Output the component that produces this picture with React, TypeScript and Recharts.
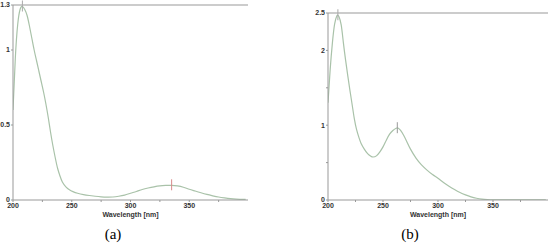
import { LineChart, Line, XAxis, YAxis, ReferenceLine, ReferenceDot } from 'recharts'

// spectrum (a)
const wlA = [200, 202, 204, 206, 208, 210, 212, 214, 216, 218, 220, 222, 224, 226, 228, 230, 232, 234, 236, 238, 240, 242, 245, 248, 251, 255, 260, 265, 270, 275, 280, 285, 290, 295, 300, 305, 310, 315, 320, 325, 330, 335, 340, 345, 350, 355, 360, 365, 370, 375, 380, 385, 390, 398]
const absA = [0.6, 0.95, 1.17, 1.27, 1.29, 1.27, 1.23, 1.16, 1.08, 1.0, 0.93, 0.86, 0.79, 0.72, 0.64, 0.55, 0.45, 0.36, 0.28, 0.21, 0.16, 0.12, 0.088, 0.068, 0.056, 0.045, 0.036, 0.03, 0.025, 0.021, 0.019, 0.02, 0.025, 0.033, 0.045, 0.057, 0.07, 0.08, 0.088, 0.094, 0.097, 0.098, 0.094, 0.085, 0.072, 0.06, 0.048, 0.037, 0.028, 0.02, 0.014, 0.009, 0.006, 0.004]

// spectrum (b)
const wlB = [200, 202, 204, 206, 208, 209, 210, 212, 214, 216, 218, 220, 222, 224, 226, 228, 230, 233, 236, 239, 241, 244, 247, 250, 253, 256, 259, 262, 264, 266, 269, 272, 275, 280, 285, 290, 295, 300, 305, 310, 315, 320, 325, 330, 335, 340, 345, 350, 360, 370, 380, 390, 398]
const absB = [1.3, 1.75, 2.1, 2.35, 2.46, 2.47, 2.45, 2.34, 2.1, 1.87, 1.66, 1.46, 1.27, 1.08, 0.94, 0.84, 0.76, 0.68, 0.62, 0.585, 0.575, 0.59, 0.64, 0.71, 0.8, 0.88, 0.93, 0.96, 0.96, 0.93, 0.86, 0.77, 0.68, 0.56, 0.47, 0.4, 0.34, 0.29, 0.235, 0.185, 0.14, 0.1, 0.068, 0.042, 0.023, 0.011, 0.005, 0.002, 0.001, 0.001, 0.001, 0.001, 0.001]

const xTicks = [200, 225, 250, 275, 300, 325, 350, 375]
const yTicksA = [0, 0.5, 1, 1.3]
const yTicksB = [0, 0.5, 1, 1.5, 2, 2.5]
const yLabelsB = [0, 1, 2, 2.5]

const peaksA = [
  { x: 208, y: 1.29, color: '#aaa' },
  { x: 335, y: 0.098, color: '#d98a8a' },
]
const peaksB = [
  { x: 209, y: 2.47, color: '#aaa' },
  { x: 263, y: 0.96, color: '#999' },
]

const dataA = wlA.map((w, i) => ({ wl: w, abs: absA[i] }))
const dataB = wlB.map((w, i) => ({ wl: w, abs: absB[i] }))

const tickStyle = { fontSize: 7, fontFamily: 'Liberation Sans', fontWeight: 'bold', fill: '#333' }
const curve = '#a9c2a9'
const axisGray = '#999'

const peakShape = (color: string) => (p: any) => (
  <line x1={p.cx} x2={p.cx} y1={p.cy - 6} y2={p.cy + 5} stroke={color} strokeWidth={1} />
)

function Spectrum({ data, yMax, yTicks, yLabels, peaks, yWidth, top }: any) {
  return (
    <LineChart width={250} height={220} data={data} margin={{ top, right: 2, bottom: 0, left: 0 }}>
      <XAxis
        dataKey="wl"
        type="number"
        domain={[200, 400]}
        ticks={xTicks}
        allowDataOverflow
        tick={tickStyle}
        tickFormatter={(v: number) => (v % 50 === 0 ? String(v) : '')}
        tickSize={2}
        tickMargin={1}
        stroke={axisGray}
        height={20}
        label={{ value: 'Wavelength [nm]', position: 'insideBottom', offset: 3, style: { ...tickStyle, fill: '#333' } }}
      />
      <YAxis
        type="number"
        domain={[0, yMax]}
        ticks={yTicks}
        allowDataOverflow
        tick={tickStyle}
        tickFormatter={(v: number) => (yLabels.includes(v) ? String(v) : '')}
        tickSize={2}
        tickMargin={1}
        stroke={axisGray}
        width={yWidth}
      />
      <ReferenceLine y={yMax} stroke={axisGray} strokeWidth={1} />
      <Line type="natural" dataKey="abs" stroke={curve} strokeWidth={1.2} dot={false} isAnimationActive={false} />
      {peaks.map((p: any) => (
        <ReferenceDot key={p.x} x={p.x} y={p.y} r={0} shape={peakShape(p.color)} />
      ))}
    </LineChart>
  )
}

export default function App() {
  return (
    <div style={{ position: 'absolute', left: 0, top: 0, width: 550, height: 246, background: '#fff' }}>
      <div style={{ position: 'absolute', left: 0, top: 0 }}>
        <Spectrum data={dataA} yMax={1.3} yTicks={yTicksA} yLabels={yTicksA} peaks={peaksA} yWidth={13} top={5} />
      </div>
      <div style={{ position: 'absolute', left: 300, top: 0 }}>
        <Spectrum data={dataB} yMax={2.5} yTicks={yTicksB} yLabels={yLabelsB} peaks={peaksB} yWidth={28} top={13} />
      </div>
      <div style={{ position: 'absolute', left: 93, top: 226, width: 40, textAlign: 'center', fontFamily: 'Liberation Serif', fontSize: 15 }}>(a)</div>
      <div style={{ position: 'absolute', left: 390, top: 226, width: 40, textAlign: 'center', fontFamily: 'Liberation Serif', fontSize: 15 }}>(b)</div>
    </div>
  )
}
